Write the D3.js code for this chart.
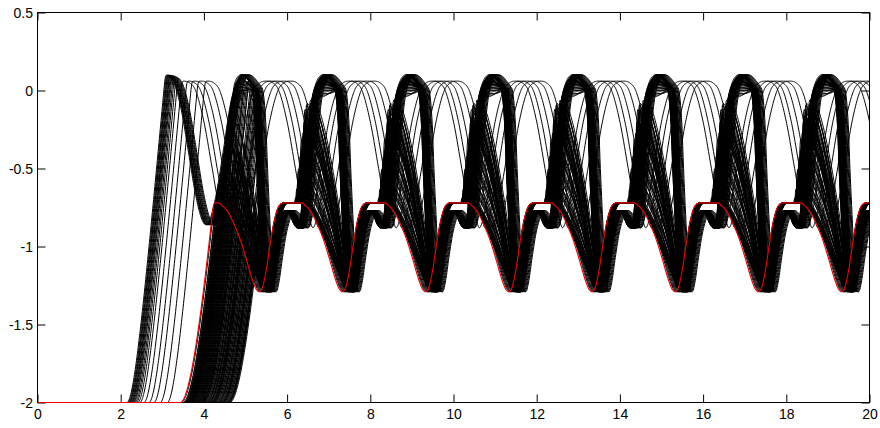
<!DOCTYPE html>
<html>
<head>
<meta charset="utf-8">
<script src="https://cdn.jsdelivr.net/npm/d3@7"></script>
<style>
  html, body { margin: 0; padding: 0; background: #fff; }
  svg { display: block; }
  .tick text { font-family: "Liberation Sans", Arial, sans-serif; font-size: 14px; fill: #000; }
</style>
</head>
<body>
<svg id="chart" width="880" height="428"></svg>
<script>
// ---- axis ticks ----
const xTickValues = [0, 2, 4, 6, 8, 10, 12, 14, 16, 18, 20];
const yTickValues = [-2, -1.5, -1, -0.5, 0, 0.5];

// ---- steady oscillation timing ----
const period = 2;
const firstMinimum = 5.33;

// lowest trajectory over one period, phase counted from its minimum
const basePhase = [0, 0.08, 0.17, 0.26, 0.35, 0.44, 0.53, 0.65, 1.0, 1.12, 1.25, 1.4, 1.55, 1.7, 1.82, 1.92, 2.0];
const baseValue = [-1.29, -1.26, -1.15, -0.99, -0.85, -0.76, -0.725, -0.72, -0.72, -0.74, -0.78, -0.86, -0.96, -1.09, -1.2, -1.27, -1.29];

// highest trajectory over one period, same phase origin
const highPhase = [0, 0.06, 0.11, 0.16, 0.21, 0.28, 0.36, 0.45, 0.55, 0.67, 0.8, 0.9, 0.97, 1.04, 1.12, 1.2, 1.3, 1.4, 1.5, 1.56, 1.65, 1.75, 1.83, 1.9, 1.96, 2.0];
const highValue = [-0.5, -0.85, -1.12, -1.26, -1.29, -1.22, -1.07, -0.92, -0.82, -0.77, -0.8, -0.86, -0.88, -0.84, -0.62, -0.32, -0.06, 0.05, 0.095, 0.1, 0.09, 0.06, 0.03, -0.02, -0.22, -0.5];
const highPeakPhase = 1.56, highPeakLevel = 0.1;

// mid-level trajectories: where they peak (by peak level), how fast they climb, when they bottom out
const peakLevelKeys = [-0.72, -0.4, -0.1, -0.05];
const peakPhaseKeys = [0.84, 0.95, 1.1, 1.2];
const midClimb = 8;
const midBottomPhase = 2.06;
const midFallBend = 1.5;

// small-swing trajectories, phase counted from their top
const thinPhase = [0, 0.15, 0.3, 0.5, 0.7, 0.85, 0.95, 1.0, 1.05, 1.15, 1.3, 1.5, 1.7, 1.85, 2.0];
const thinValue = [0.06, 0.05, 0.0, -0.2, -0.5, -0.73, -0.85, -0.88, -0.86, -0.75, -0.52, -0.2, 0.0, 0.05, 0.06];

// first swing of the early-starting trajectories
const earlyTime  = [1.5, 3.08, 3.2, 3.32, 3.46, 3.62, 3.78, 3.93, 4.04, 4.14, 4.3, 4.47, 4.63, 4.76, 4.83, 4.89];
const earlyValue = [0.1, 0.1, 0.08, 0.02, -0.13, -0.38, -0.64, -0.81, -0.86, -0.83, -0.66, -0.38, -0.1, 0.04, 0.085, 0.1];
const earlyJoin = 4.89;

// ---- trajectories ----
const redOnset = 3.43, redLevel = -0.72, redLag = 0;

const midLevel = [-0.72, -0.72, -0.72, -0.72, -0.72, -0.72,
  -0.71, -0.70, -0.69, -0.68, -0.67, -0.65, -0.63, -0.61, -0.59, -0.57, -0.56, -0.53, -0.50,
  -0.48, -0.47, -0.44, -0.42, -0.41, -0.38, -0.35, -0.33, -0.32, -0.29, -0.27, -0.26, -0.23, -0.21,
  -0.20, -0.18, -0.16, -0.15, -0.14, -0.12, -0.11, -0.10, -0.09, -0.08, -0.07, -0.06, -0.55, -0.36,
  -0.22, -0.13, -0.06, -0.66, -0.60, -0.52, -0.45, -0.39, -0.31, -0.25, -0.19, -0.17, -0.12,
  -0.10, -0.08, -0.07, -0.06];
const midOnset = [3.45, 3.50, 3.56, 3.63, 3.70, 3.78,
  3.52, 4.10, 3.66, 4.41, 3.58, 3.95, 4.55, 3.71, 4.22, 3.49, 4.33, 3.84, 4.60,
  3.62, 4.05, 3.77, 4.47, 3.55, 4.16, 3.90, 4.38, 3.68, 4.27, 3.80, 4.52, 3.60, 4.00,
  3.74, 4.44, 3.86, 4.12, 3.57, 4.30, 3.92, 4.46, 3.65, 4.18, 3.81, 4.39, 3.53, 4.07,
  3.96, 4.57, 3.69, 4.24, 3.89, 4.50, 3.73, 4.13, 3.99, 4.34, 3.61, 4.43, 3.83,
  4.20, 3.94, 4.59, 4.02];
const midLag = [0.03, 0.05, 0.07, 0.09, 0.11, 0.13,
  0.02, 0.04, 0.01, 0.05, 0.03, 0.06, 0.02, 0.04, 0.07, 0.03, 0.05, 0.08, 0.02,
  0.06, 0.04, 0.09, 0.03, 0.07, 0.05, 0.10, 0.04, 0.08, 0.06, 0.03, 0.09, 0.05, 0.07,
  0.02, 0.06, 0.04, 0.08, 0.05, 0.03, 0.07, 0.11, 0.01, 0.09, 0.12, 0.04, 0.10, 0.06,
  0.08, 0.12, 0.10, 0.09, 0.12, 0.02, 0.10, 0.13, 0.01, 0.11, 0.03, 0.12, 0.00,
  0.13, 0.01, 0.11, 0.14];

const highLevel = [-0.03, -0.02, -0.01, 0.0, 0.01, 0.02, 0.03, 0.03, 0.04, 0.04, 0.05, 0.05, 0.06, 0.06, 0.06,
  0.07, 0.07, 0.07, 0.08, 0.08, 0.08, 0.08, 0.09, 0.09, 0.09, 0.09, 0.1, 0.1, 0.1, 0.1,
  -0.04, 0.0, 0.02, 0.05, 0.07, 0.09, -0.02, 0.01, 0.04, 0.06, 0.08, 0.1];
const highOnset = [4.58, 3.64, 4.19, 3.82, 4.36, 3.70, 4.08, 3.98, 4.49, 3.54, 4.25, 3.88, 4.62, 3.79, 4.14,
  4.03, 3.67, 4.21, 3.61, 4.42, 3.75, 3.94, 4.56, 3.59, 4.28, 3.72, 4.06, 3.85, 4.35, 3.63,
  4.11, 3.76, 4.45, 3.91, 4.31, 3.56, 4.17, 3.87, 4.53, 3.66, 4.23, 3.97];
const highLag = [0.00, 0.04, -0.02, 0.05, 0.01, -0.04, 0.03, 0.06, -0.01, 0.02, -0.05, 0.04, 0.00, 0.03, -0.03,
  0.05, 0.01, -0.02, 0.06, 0.02, -0.04, 0.03, 0.00, 0.05, -0.01, 0.04, -0.03, 0.02, 0.06, 0.01,
  -0.06, 0.07, -0.05, 0.08, -0.03, 0.07, 0.09, -0.06, 0.08, -0.02, 0.09, 0.03];

const earlyOnset = [2.15, 2.17, 2.19, 2.20, 2.22, 2.24, 2.25, 2.27, 2.29, 2.31, 2.34, 2.37, 2.41, 2.46];
const earlyLag   = [0, 0.02, 0.03, 0.04, 0.05, 0.07, 0.08, 0.09, 0.11, 0.12, 0.14, 0.16, 0.18, 0.2];

const thinOnset = [2.56, 2.68, 2.80, 2.95, 3.12];
const thinTop   = [3.50, 3.62, 3.76, 3.92, 4.08];

// ---- helpers ----
// monotone cubic through key points; "periodic" keys wrap their end slopes
function hermite(xs, ys, periodic) {
  const n = xs.length, d = [], m = new Array(n).fill(0);
  for (let i = 0; i < n - 1; i++) d.push((ys[i + 1] - ys[i]) / (xs[i + 1] - xs[i]));
  for (let i = 1; i < n - 1; i++) m[i] = d[i - 1] * d[i] <= 0 ? 0 : (d[i - 1] + d[i]) / 2;
  if (periodic && d[n - 2] * d[0] > 0) m[0] = m[n - 1] = (d[n - 2] + d[0]) / 2;
  for (let i = 0; i < n - 1; i++) {
    if (d[i] === 0) { m[i] = 0; m[i + 1] = 0; continue; }
    const a = m[i] / d[i], b = m[i + 1] / d[i], s = a * a + b * b;
    if (s > 9) { const k = 3 / Math.sqrt(s); m[i] = k * a * d[i]; m[i + 1] = k * b * d[i]; }
  }
  return function (x) {
    if (x <= xs[0]) return ys[0];
    if (x >= xs[n - 1]) return ys[n - 1];
    let i = d3.bisectRight(xs, x) - 1;
    i = Math.max(0, Math.min(n - 2, i));
    const h = xs[i + 1] - xs[i], t = (x - xs[i]) / h, t2 = t * t, t3 = t2 * t;
    return (2 * t3 - 3 * t2 + 1) * ys[i] + (t3 - 2 * t2 + t) * h * m[i]
         + (-2 * t3 + 3 * t2) * ys[i + 1] + (t3 - t2) * h * m[i + 1];
  };
}
const mod = (a, b) => ((a % b) + b) % b;
const baseWave = hermite(basePhase, baseValue, true);
const highWaveShape = hermite(highPhase, highValue, true);
const thinWave = hermite(thinPhase, thinValue, true);
const earlyWave = hermite(earlyTime, earlyValue, false);
const peakPhaseOf = d3.scaleLinear().domain(peakLevelKeys).range(peakPhaseKeys).clamp(true);

function bump(x, wl, wr) {
  if (x < 0) return x > -wl ? 0.5 + 0.5 * Math.cos(Math.PI * x / wl) : 0;
  return x < wr ? 0.5 + 0.5 * Math.cos(Math.PI * x / wr) : 0;
}
function softMin(a, b, k) {
  const m = Math.min(a, b);
  return m - k * Math.log(1 + Math.exp(-Math.abs(a - b) / k));
}
const softMax = (a, b, k) => -softMin(-a, -b, k);
function rise(t, onset, gain, bend) {
  if (t <= onset) return -2;
  const u = t - onset;
  return -2 + gain * (u - bend * (1 - Math.exp(-u / bend)));
}
// steep climb from the shelf, rounded cap, then a shouldered fall to the floor
function midWave(t, h, lag) {
  const q = t - firstMinimum - lag;
  let v = baseWave(mod(q, period));
  if (h <= -0.715) return v;
  const pp = peakPhaseOf(h);
  const span = midBottomPhase - pp;
  const drop = h - baseValue[0];
  const k = Math.floor(q / period);
  for (let j = k - 1; j <= k + 1; j++) {
    const dx = q - (j * period + pp);
    const fallLine = dx <= 0 ? h : h - drop * Math.pow(dx / span, midFallBend);
    const tent = softMin(h + midClimb * dx, fallLine, 0.025);
    v = softMax(v, tent, 0.015);
  }
  return v;
}
function highWave(t, h, lag) {
  const q = t - firstMinimum - lag;
  let v = highWaveShape(mod(q, period));
  if (h < highPeakLevel) {
    const k = Math.floor(q / period);
    for (let j = k - 1; j <= k + 1; j++) v += (h - highPeakLevel) * bump(q - (j * period + highPeakPhase), 0.45, 0.4);
  }
  return v;
}

const times = d3.range(0, 20.0001, 0.01);
const K = 0.025;
const clampV = v => Math.max(-2.02, Math.min(0.52, v));
const mainRise = (t, o) => rise(t, o, 3.0, 0.45);

function midSeries(onset, h, lag) {
  return times.map(t => [t, clampV(softMin(mainRise(t, onset), midWave(t, h, lag), K))]);
}
function highSeries(onset, h, lag) {
  return times.map(t => [t, clampV(softMin(mainRise(t, onset), highWave(t, h, lag), K))]);
}
function earlySeries(onset, lag) {
  return times.map(t => {
    const w = (t - lag) < earlyJoin ? earlyWave(t - lag) : highWave(t, highPeakLevel, lag);
    return [t, clampV(softMin(rise(t, onset, 2.9, 0.2), w, K))];
  });
}
function thinSeries(onset, top) {
  return times.map(t => [t, clampV(softMin(rise(t, onset, 2.9, 0.2), thinWave(mod(t - top, period)), K))]);
}

const blackSeries = [];
earlyOnset.forEach((o, i) => blackSeries.push(earlySeries(o, earlyLag[i])));
thinOnset.forEach((o, i) => blackSeries.push(thinSeries(o, thinTop[i])));
midLevel.forEach((h, i) => blackSeries.push(midSeries(midOnset[i], h, midLag[i])));
highLevel.forEach((h, i) => blackSeries.push(highSeries(highOnset[i], h, highLag[i])));
const redSeries = midSeries(redOnset, redLevel, redLag);

// ---- drawing ----
const svg = d3.select("#chart");
const W = 880, H = 428;
const x = d3.scaleLinear().domain([0, 20]).range([37.5, 869.5]);
const y = d3.scaleLinear().domain([-2, 0.5]).range([402.5, 12.5]);

svg.append("rect").attr("width", W).attr("height", H).attr("fill", "#fff");

svg.append("defs").append("clipPath").attr("id", "plotClip")
  .append("rect").attr("x", x(0)).attr("y", y(0.5) - 1)
  .attr("width", x(20) - x(0)).attr("height", y(-2) - y(0.5) + 2);

// axes box with inward ticks on all sides
const tickLen = 8;
const gx = svg.append("g").attr("transform", `translate(0,${y(-2)})`)
  .call(d3.axisBottom(x).tickValues(xTickValues).tickSizeInner(-tickLen).tickSizeOuter(0).tickPadding(6.5).tickFormat(d3.format("d")));
const gxt = svg.append("g").attr("transform", `translate(0,${y(0.5)})`)
  .call(d3.axisTop(x).tickValues(xTickValues).tickSizeInner(-tickLen).tickSizeOuter(0).tickFormat(""));
const gy = svg.append("g").attr("transform", `translate(${x(0)},0)`)
  .call(d3.axisLeft(y).tickValues(yTickValues).tickSizeInner(-tickLen).tickSizeOuter(0).tickPadding(4.5).tickFormat(d => String(d)));
const gyr = svg.append("g").attr("transform", `translate(${x(20)},0)`)
  .call(d3.axisRight(y).tickValues(yTickValues).tickSizeInner(-tickLen).tickSizeOuter(0).tickFormat(""));
[gx, gxt, gy, gyr].forEach(g => {
  g.select(".domain").remove();
  g.selectAll(".tick line").attr("stroke", "#000").attr("stroke-width", 1);
});
gy.selectAll(".tick text").attr("dy", "0.34em");

svg.append("rect")
  .attr("x", x(0)).attr("y", y(0.5))
  .attr("width", x(20) - x(0)).attr("height", y(-2) - y(0.5))
  .attr("fill", "none").attr("stroke", "#000").attr("stroke-width", 1);

const line = d3.line().x(d => x(d[0])).y(d => y(d[1]));
const plot = svg.append("g").attr("clip-path", "url(#plotClip)");

plot.selectAll("path.traj").data(blackSeries).join("path")
  .attr("class", "traj")
  .attr("d", line)
  .attr("fill", "none")
  .attr("stroke", "#000")
  .attr("stroke-width", 1);

plot.append("path").datum(redSeries)
  .attr("d", line)
  .attr("fill", "none")
  .attr("stroke", "#ee0000")
  .attr("stroke-width", 1.15);
</script>
</body>
</html>
